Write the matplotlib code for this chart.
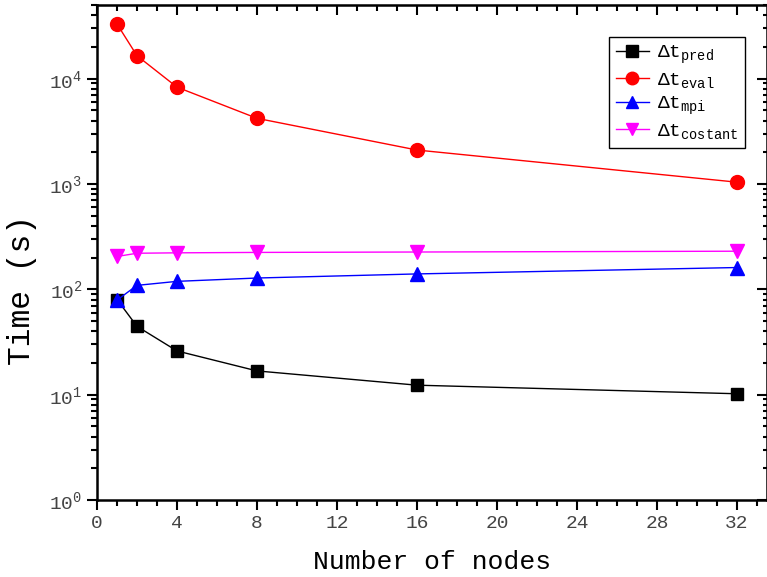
import matplotlib
matplotlib.use('Agg')
import matplotlib.pyplot as plt
from matplotlib.ticker import MultipleLocator, LogLocator, NullFormatter

plt.rcParams['font.family'] = ['Liberation Mono', 'DejaVu Sans']
plt.rcParams['mathtext.fontset'] = 'custom'
plt.rcParams['mathtext.rm'] = 'Liberation Mono'
plt.rcParams['mathtext.it'] = 'Liberation Mono'
plt.rcParams['mathtext.default'] = 'rm'

# timing data
nodes = [1, 2, 4, 8, 16, 32]
t_pred = [80, 44.5, 26, 16.8, 12.3, 10.2]
t_eval = [33000, 16500, 8300, 4200, 2100, 1040]
t_mpi = [79, 109, 119, 128, 140, 161]
t_const = [205, 220, 222, 224, 226, 230]

fig = plt.figure(figsize=(7.67, 5.77), dpi=100)
ax = fig.add_axes([97/767, 77/577, 670/767, 495/577])

ax.plot(nodes, t_pred, '-s', color='black', lw=1, ms=9, label=r'$\Delta t_{pred}$')
ax.plot(nodes, t_eval, '-o', color='red', lw=1, ms=10, label=r'$\Delta t_{eval}$')
ax.plot(nodes, t_mpi, '-^', color='blue', lw=1, ms=10, label=r'$\Delta t_{mpi}$')
ax.plot(nodes, t_const, '-v', color='magenta', lw=1, ms=10, label=r'$\Delta t_{costant}$')

ax.set_yscale('log')
ax.set_xlim(0, 33.5)
ax.set_ylim(1, 5e4)
ax.xaxis.set_major_locator(MultipleLocator(4))
ax.xaxis.set_minor_locator(MultipleLocator(1))
ax.yaxis.set_minor_locator(LogLocator(base=10, subs=range(2, 10)))
ax.yaxis.set_minor_formatter(NullFormatter())

ax.tick_params(which='both', direction='out', width=1.5, labelsize=14, labelcolor='#444444')
ax.tick_params(which='major', length=7)
ax.tick_params(which='minor', length=4)
for s in ax.spines.values():
    s.set_linewidth(1.8)

# mirrored ticks on top and right
top = ax.secondary_xaxis('top')
top.xaxis.set_major_locator(MultipleLocator(4))
top.xaxis.set_minor_locator(MultipleLocator(1))
top.tick_params(which='both', direction='in', labeltop=False, width=1.5)
top.tick_params(which='major', length=7)
top.tick_params(which='minor', length=4)
right = ax.secondary_yaxis('right')
right.tick_params(which='both', direction='in', labelright=False, width=1.5)
right.tick_params(which='major', length=7)
right.tick_params(which='minor', length=3)

ax.set_xlabel('Number of nodes', fontsize=19, labelpad=13)
ax.set_ylabel('Time (s)', fontsize=22.5)
ax.yaxis.set_label_coords(-0.09, 0.424)

leg = ax.legend(loc='upper right', bbox_to_anchor=(0.967, 0.935), borderaxespad=0,
                fontsize=14, fancybox=False, edgecolor='black', framealpha=1,
                handlelength=1.7, handletextpad=0.4, borderpad=0.35,
                labelspacing=0.25, markerscale=0.9)
leg.get_frame().set_linewidth(1)

fig.savefig('out.png', dpi=100)
